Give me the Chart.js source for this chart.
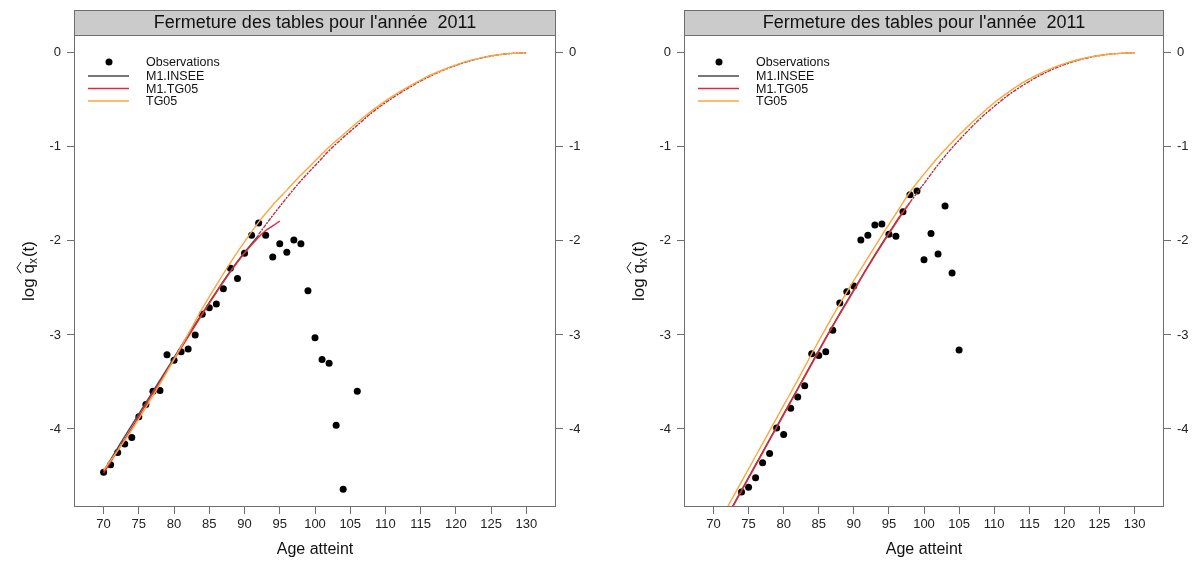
<!DOCTYPE html>
<html>
<head>
<meta charset="utf-8">
<script src="https://cdn.jsdelivr.net/npm/chart.js@4.4.0/dist/chart.umd.min.js"></script>
<style>
  html, body { margin: 0; padding: 0; background: #fff; }
  #wrap { position: relative; width: 1198px; height: 563px; }
  #wrap canvas { position: absolute; top: 0; }
</style>
</head>
<body>
<div id="wrap">
  <canvas id="left" width="600" height="563" style="left:0"></canvas>
  <canvas id="right" width="598" height="563" style="left:600px"></canvas>
</div>
<script>
// --- données ---
var xTicks = [70, 75, 80, 85, 90, 95, 100, 105, 110, 115, 120, 125, 130];
var yTicks = [0, -1, -2, -3, -4];
var titre = "Fermeture des tables pour l'année  2011";

// panneau gauche
var obsAgesA = [70, 71, 72, 73, 74, 75, 76, 77, 78, 79, 80, 81, 82, 83, 84, 85, 86, 87, 88, 89,
                90, 91, 92, 93, 94, 95, 96, 97, 98, 99, 100, 101, 102, 103, 104, 106];
var obsA = [-4.46, -4.38, -4.25, -4.16, -4.09, -3.87, -3.74, -3.60, -3.59, -3.21, -3.27, -3.18,
            -3.15, -3.00, -2.78, -2.71, -2.67, -2.51, -2.29, -2.40, -2.13, -1.94, -1.81, -1.94,
            -2.17, -2.03, -2.12, -1.99, -2.03, -2.53, -3.03, -3.26, -3.30, -3.96, -4.64, -3.60];
var inseeAgesA = [70, 72, 74, 76, 78, 80, 82, 84, 86, 88, 90, 92];
var inseeA = [-4.45, -4.20, -3.96, -3.72, -3.48, -3.24, -3.00, -2.77, -2.54, -2.32, -2.12, -1.94];
var m1tgAgesA = [70, 72, 74, 76, 78, 80, 82, 84, 86, 88, 90, 92, 93, 94, 95];
var m1tgA = [-4.47, -4.23, -3.99, -3.74, -3.50, -3.26, -3.02, -2.78, -2.55, -2.33, -2.13, -1.96, -1.89, -1.84, -1.79];
var tgAgesA = [70, 72, 74, 76, 78, 80, 82, 84, 86, 88, 90, 92, 94, 96, 98, 100, 102, 104, 106, 108,
               110, 112, 114, 116, 118, 120, 122, 124, 126, 128, 130];
var tgA = [-4.44, -4.23, -4.01, -3.77, -3.52, -3.26, -2.99, -2.72, -2.47, -2.23, -2.01, -1.80, -1.62,
           -1.46, -1.30, -1.15, -1.00, -0.87, -0.74, -0.62, -0.51, -0.415, -0.33, -0.25, -0.185,
           -0.128, -0.08, -0.045, -0.02, -0.005, 0];
var closeAgesA = [92, 94, 96, 98, 100, 102, 104, 106, 108, 110, 112, 114, 116, 118, 120, 122, 124, 126, 128, 130];
var closeA = [-1.93, -1.73, -1.54, -1.36, -1.20, -1.04, -0.90, -0.77, -0.64, -0.53, -0.43, -0.34,
              -0.26, -0.19, -0.133, -0.085, -0.048, -0.021, -0.005, 0];

// panneau droit
var obsAgesB = [74, 75, 76, 77, 78, 79, 80, 81, 82, 83, 84, 85, 86, 87, 88, 89, 90, 91, 92, 93,
                94, 95, 96, 97, 98, 99, 100, 101, 102, 103, 104, 105];
var obsB = [-4.67, -4.62, -4.52, -4.36, -4.26, -3.99, -4.06, -3.78, -3.66, -3.54, -3.20, -3.22,
            -3.18, -2.95, -2.66, -2.54, -2.48, -1.99, -1.94, -1.83, -1.82, -1.93, -1.95, -1.69,
            -1.51, -1.47, -2.20, -1.92, -2.14, -1.63, -2.34, -3.16];
var inseeAgesB = [70, 72, 74, 76, 78, 80, 82, 84, 86, 88, 90, 92, 94, 96, 97];
var inseeB = [-5.19, -4.92, -4.65, -4.38, -4.11, -3.84, -3.57, -3.30, -3.03, -2.77, -2.52, -2.27, -2.03, -1.80, -1.69];
var m1tgAgesB = [70, 72, 74, 76, 78, 80, 82, 84, 86, 88, 90, 92, 94, 96, 98];
var m1tgB = [-5.20, -4.93, -4.66, -4.39, -4.12, -3.85, -3.58, -3.31, -3.04, -2.78, -2.53, -2.28, -2.04, -1.81, -1.59];
var tgAgesB = [70, 72, 74, 76, 78, 80, 82, 84, 86, 88, 90, 92, 94, 96, 98, 100, 102, 104, 106, 108,
               110, 112, 114, 116, 118, 120, 122, 124, 126, 128, 130];
var tgB = [-5.10, -4.83, -4.56, -4.29, -4.02, -3.75, -3.48, -3.20, -2.93, -2.67, -2.42, -2.18, -1.94,
           -1.71, -1.48, -1.29, -1.11, -0.95, -0.80, -0.66, -0.53, -0.42, -0.32, -0.24, -0.17,
           -0.115, -0.07, -0.04, -0.018, -0.005, 0];
var closeAgesB = [96, 98, 100, 102, 104, 106, 108, 110, 112, 114, 116, 118, 120, 122, 124, 126, 128, 130];
var closeB = [-1.80, -1.59, -1.39, -1.19, -1.01, -0.85, -0.70, -0.57, -0.45, -0.35, -0.26, -0.185,
              -0.125, -0.078, -0.042, -0.018, -0.005, 0];

// --- style ---
var FONT = '"Liberation Sans", Arial, sans-serif';
var colInsee = '#4a4a4a';
var colM1tg = '#e2283c';
var colTg = '#ffa53c';
var colAxe = '#6e6e6e';

function zip(xs, ys) {
  return xs.map(function(x, i) { return { x: x, y: ys[i] }; });
}

function ligne(data, couleur, ordre, dash, offset) {
  return {
    data: data,
    showLine: true,
    borderColor: couleur,
    borderWidth: 1.4,
    borderDash: dash || [],
    borderDashOffset: offset || 0,
    pointRadius: 0,
    cubicInterpolationMode: 'monotone',
    order: ordre
  };
}

// bandeau, cadre, légende et titre de l'axe y
var decor = {
  id: 'decor',
  afterDraw: function(chart) {
    var ctx = chart.ctx, a = chart.chartArea;
    ctx.save();
    ctx.strokeStyle = colAxe;
    ctx.lineWidth = 1;
    ctx.strokeRect(a.left + 0.5, a.top + 0.5, a.right - a.left - 1, a.bottom - a.top - 1);

    // bandeau du titre
    ctx.fillStyle = '#cbcbcb';
    ctx.fillRect(a.left, 10, a.right - a.left, a.top - 10);
    ctx.strokeRect(a.left + 0.5, 10.5, a.right - a.left - 1, a.top - 10);
    ctx.fillStyle = '#111';
    ctx.font = '18px ' + FONT;
    ctx.textAlign = 'center';
    ctx.textBaseline = 'middle';
    ctx.fillText(titre, (a.left + a.right) / 2, (10 + a.top) / 2 + 1);

    // légende
    var lx = a.left;
    ctx.fillStyle = '#000';
    ctx.beginPath();
    ctx.arc(lx + 35, 62, 3.5, 0, 2 * Math.PI);
    ctx.fill();
    ctx.font = '12.5px ' + FONT;
    ctx.textAlign = 'left';
    ctx.fillStyle = '#111';
    ctx.fillText('Observations', lx + 72, 63);
    var rows = [[colInsee, 'M1.INSEE'], [colM1tg, 'M1.TG05'], [colTg, 'TG05']];
    rows.forEach(function(r, i) {
      var y = 76 + i * 12.5;
      ctx.strokeStyle = r[0];
      ctx.lineWidth = 1.4;
      ctx.beginPath();
      ctx.moveTo(lx + 14, y);
      ctx.lineTo(lx + 55, y);
      ctx.stroke();
      ctx.fillStyle = '#111';
      ctx.fillText(r[1], lx + 72, y + 1);
    });

    // titre de l'axe y : log q^x(t)
    ctx.translate(a.left - 46, (a.top + a.bottom) / 2);
    ctx.rotate(-Math.PI / 2);
    ctx.textBaseline = 'alphabetic';
    var big = '17px ' + FONT, small = '12px ' + FONT;
    ctx.font = big;
    var w1 = ctx.measureText('log ').width;
    var wq = ctx.measureText('q').width;
    var wt = ctx.measureText('(t)').width;
    ctx.font = small;
    var wx = ctx.measureText('x').width;
    var x0 = -(w1 + wq + wx + wt + 1) / 2, base = 6;
    ctx.fillStyle = '#111';
    ctx.font = big;
    ctx.fillText('log ', x0, base);
    ctx.fillText('q', x0 + w1, base);
    ctx.font = small;
    ctx.fillText('x', x0 + w1 + wq, base + 3);
    ctx.font = big;
    ctx.fillText('(t)', x0 + w1 + wq + wx + 1, base);
    ctx.strokeStyle = '#111';
    ctx.lineWidth = 1;
    ctx.beginPath();
    ctx.moveTo(x0 + w1, base - 13);
    ctx.lineTo(x0 + w1 + wq / 2 + 1, base - 17);
    ctx.lineTo(x0 + w1 + wq + 2, base - 13);
    ctx.stroke();
    ctx.restore();
  }
};

function axeY(position, largeur) {
  return {
    type: 'linear',
    position: position,
    min: -4.83,
    max: 0.19,
    afterBuildTicks: function(s) { s.ticks = yTicks.map(function(v) { return { value: v }; }); },
    afterFit: function(s) { s.width = largeur; },
    ticks: {
      font: { size: 13, family: FONT },
      color: '#222',
      padding: 6,
      callback: function(v) { return String(v); }
    },
    grid: { drawOnChartArea: false, drawTicks: true, tickLength: 7, color: colAxe },
    border: { display: false }
  };
}

function panneau(id, d, gauche, droite) {
  var datasets = [
    { data: zip(d.obsAges, d.obs), showLine: false, pointRadius: 3.5,
      pointBackgroundColor: '#000', pointBorderWidth: 0, order: 10 },
    ligne(zip(d.inseeAges, d.insee), colInsee, 5),
    // fermetures en tirets : rouge et gris alternés, petits blancs entre eux
    ligne(zip(d.closeAges, d.close), colInsee, 4, [2, 6], -5),
    ligne(zip(d.closeAges, d.close), colM1tg, 3, [4, 4], 0),
    ligne(zip(d.m1tgAges, d.m1tg), colM1tg, 2),
    ligne(zip(d.tgAges, d.tg), colTg, 1)
  ];
  return new Chart(document.getElementById(id), {
    type: 'scatter',
    data: { datasets: datasets },
    options: {
      responsive: false,
      devicePixelRatio: 1,
      animation: false,
      layout: { padding: { top: 35, left: 0, right: 0, bottom: 0 } },
      plugins: { legend: { display: false }, tooltip: { enabled: false } },
      scales: {
        x: {
          type: 'linear',
          min: 65.8,
          max: 134.2,
          afterBuildTicks: function(s) { s.ticks = xTicks.map(function(v) { return { value: v }; }); },
          afterFit: function(s) { s.height = 56; },
          ticks: { font: { size: 13, family: FONT }, color: '#222', padding: 3, maxRotation: 0, autoSkip: false },
          grid: { drawOnChartArea: false, drawTicks: true, tickLength: 7, color: colAxe },
          border: { display: false },
          title: { display: true, text: 'Age atteint', font: { size: 16, family: FONT }, color: '#111',
                   padding: { top: 0, bottom: 4 } }
        },
        y: axeY('left', gauche),
        y2: axeY('right', droite)
      }
    },
    plugins: [decor]
  });
}

panneau('left', {
  obsAges: obsAgesA, obs: obsA, inseeAges: inseeAgesA, insee: inseeA,
  m1tgAges: m1tgAgesA, m1tg: m1tgA, tgAges: tgAgesA, tg: tgA, closeAges: closeAgesA, close: closeA
}, 74, 44);

panneau('right', {
  obsAges: obsAgesB, obs: obsB, inseeAges: inseeAgesB, insee: inseeB,
  m1tgAges: m1tgAgesB, m1tg: m1tgB, tgAges: tgAgesB, tg: tgB, closeAges: closeAgesB, close: closeB
}, 84, 34);
</script>
</body>
</html>
